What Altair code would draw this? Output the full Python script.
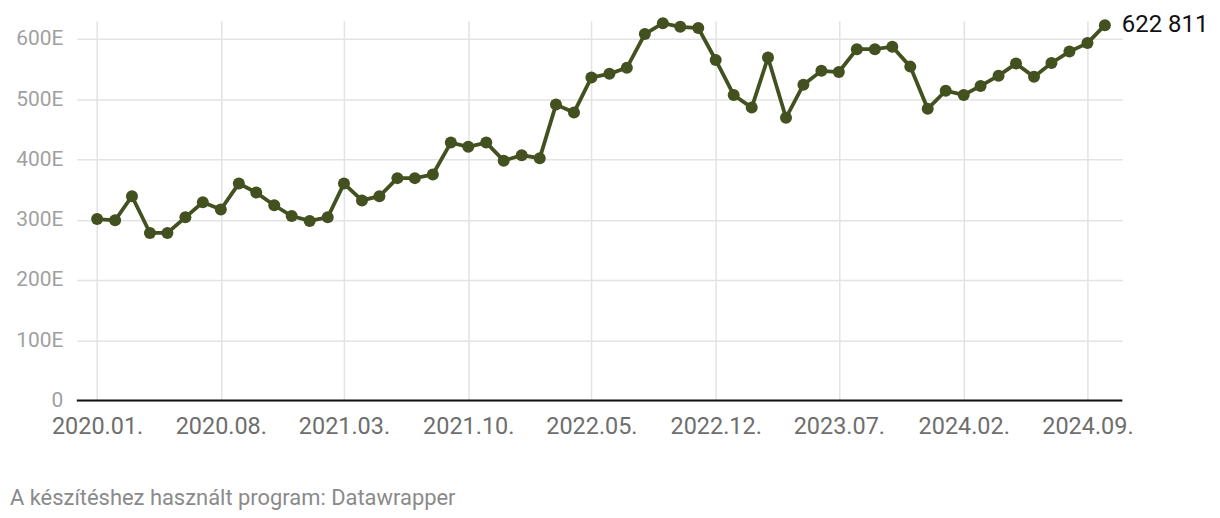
import altair as alt
import pandas as pd

months = pd.date_range("2020-01-01", "2024-10-01", freq="MS").strftime("%Y-%m-%d").tolist()
values = [
    301, 299, 339, 278, 278, 304, 329, 317, 360, 345, 324, 306,
    298, 304, 360, 332, 339, 369, 369, 375, 428, 421, 428, 398,
    407, 402, 491, 478, 536, 542, 552, 608, 626, 620, 618, 565,
    507, 486, 569, 469, 524, 547, 545, 583, 583, 587, 554, 484,
    514, 507, 522, 539, 559, 537, 560, 579, 593, 622.811,
]
last_label = "622 811"
footer = "A készítéshez használt program: Datawrapper"
y_ticks = [0, 100, 200, 300, 400, 500, 600]
x_ticks = ["2020-01-01", "2020-08-01", "2021-03-01", "2021-10-01", "2022-05-01",
           "2022-12-01", "2023-07-01", "2024-02-01", "2024-09-01"]

df = pd.DataFrame({"date": months, "value": values})
last = df.tail(1).assign(label=last_label)

COLOR = "#43501f"
FONT = "Roboto"

x_enc = alt.X(
    "date:T",
    scale=alt.Scale(type="utc",
                    domain=[alt.DateTime(year=2019, month=11, date=27, utc=True),
                            alt.DateTime(year=2024, month=10, date=31, utc=True)]),
    axis=alt.Axis(
        values=[alt.DateTime(year=int(d[:4]), month=int(d[5:7]), date=1, utc=True) for d in x_ticks],
        labelExpr="utcFormat(datum.value, '%Y.%m.')",
        title=None, domain=False, ticks=False,
        labelFont=FONT, labelFontSize=23.5, labelColor="#6e6e6e",
        labelPadding=14, labelFlush=False, labelOverlap=False,
        grid=True, gridColor="#e3e3e3", gridWidth=1.5,
    ),
)
y_enc = alt.Y(
    "value:Q",
    scale=alt.Scale(domain=[0, 630], nice=False),
    axis=alt.Axis(
        values=y_ticks, title=None, domain=False, ticks=False,
        labelExpr="datum.value == 0 ? '0' : datum.value + 'E'",
        labelFont=FONT, labelFontSize=21, labelColor="#a0a0a0",
        labelPadding=14,
        grid=True, gridColor="#e3e3e3", gridWidth=1.5,
    ),
)

base = alt.Chart(df)
line = base.mark_line(color=COLOR, strokeWidth=3.8).encode(x=x_enc, y=y_enc)
pts = base.mark_circle(color=COLOR, opacity=1, size=145).encode(x="date:T", y="value:Q")
zero = alt.Chart(pd.DataFrame({"z": [0]})).mark_rule(color="#111111", strokeWidth=2).encode(y="z:Q")
lab = alt.Chart(last).mark_text(align="left", baseline="middle", dx=17, font=FONT,
                                fontSize=24, color="#111111").encode(
    x="date:T", y="value:Q", text="label:N")

chart = alt.layer(zero, line, pts, lab).properties(
    width=1049, height=381,
    autosize=alt.AutoSizeParams(type="none"),
    padding={"left": 69, "top": 12, "right": 90, "bottom": 120},
    title=alt.TitleParams(footer, orient="bottom", anchor="start", frame="group",
                          dx=-67, offset=50, font=FONT, fontSize=22,
                          fontWeight="normal", color="#8a8a8a"),
).configure_view(stroke=None)

chart.save("out.html", embed_options={"renderer": "svg", "actions": False})
